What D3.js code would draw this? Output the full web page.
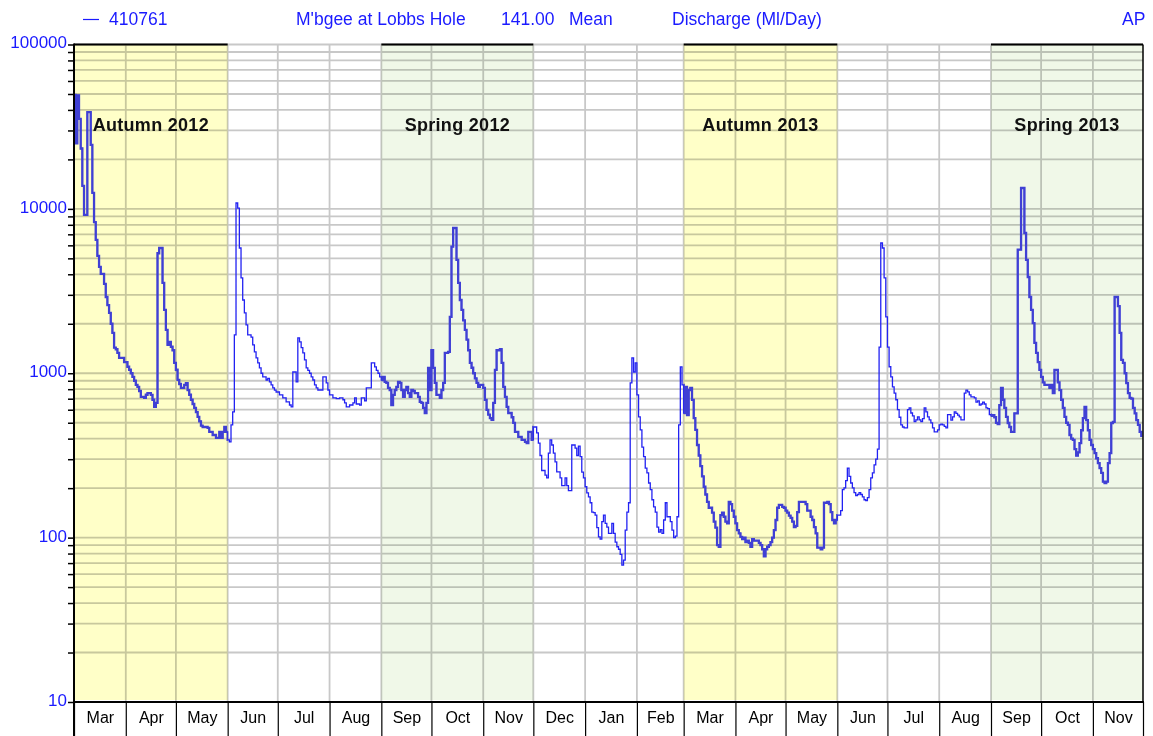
<!DOCTYPE html>
<html>
<head>
<meta charset="utf-8">
<script src="https://cdn.jsdelivr.net/npm/d3@7"></script>
<style>
  html, body { margin: 0; padding: 0; background: #fff; }
  svg { display: block; font-family: "Liberation Sans", Arial, sans-serif; }
</style>
</head>
<body>
<svg id="chart" width="1153" height="736"></svg>
<script>
// Station 410761 - daily mean discharge, Mar 2012 .. Nov 2013

const headerTexts = ["410761", "M'bgee at Lobbs Hole", "141.00", "Mean", "Discharge (Ml/Day)", "AP"];
const monthLabels = ["Mar", "Apr", "May", "Jun", "Jul", "Aug", "Sep", "Oct", "Nov", "Dec", "Jan", "Feb",
                     "Mar", "Apr", "May", "Jun", "Jul", "Aug", "Sep", "Oct", "Nov"];
const yLabels = [10, 100, 1000, 10000, 100000];

const seasons = [
  { label: "Autumn 2012", kind: "autumn", from: "2012-03-01", to: "2012-06-01" },
  { label: "Spring 2012", kind: "spring", from: "2012-09-01", to: "2012-12-01" },
  { label: "Autumn 2013", kind: "autumn", from: "2013-03-01", to: "2013-06-01" },
  { label: "Spring 2013", kind: "spring", from: "2013-09-01", to: "2013-12-01" }
];

// [days since 1 Mar 2012, Ml/day]
const discharge = [
  [0,49300],[1,25000],[2,49000],[3,35300],[4,23300],[5,13800],[6,9200],[7,9200],[8,38800],[9,38800],
  [10,24500],[11,12500],[12,8300],[13,6470],[14,5170],[15,4440],[16,4020],[17,4020],[18,3500],[19,2910],
  [20,2600],[21,2330],[22,2000],[23,1760],[24,1430],[25,1400],[26,1330],[27,1240],[29,1240],[30,1170],
  [32,1095],[33,1050],[34,1000],[35,950],[36,900],[37,850],[38,826],[39,780],[40,718],[42,708],
  [43,740],[44,758],[46,738],[47,690],[48,624],[49,660],[50,5370],[51,5780],[52,5780],[53,3550],
  [54,2430],[55,1835],[56,1487],[57,1550],[58,1450],[59,1380],[60,1156],[61,1050],[62,912],[63,860],
  [64,814],[66,850],[67,872],[68,790],[69,740],[70,690],[71,650],[72,615],[73,580],[74,542],
  [75,510],[76,480],[77,471],[80,465],[81,440],[83,421],[85,404],[87,440],[88,404],[89,440],
  [90,471],[91,440],[92,393],[93,382],[94,485],[95,582],[96,1710],[97,10860],[98,10100],[99,5780],
  [100,3800],[101,2790],[102,2330],[103,1970],[104,1710],[106,1660],[107,1490],[108,1350],[109,1240],[110,1156],
  [111,1077],[112,1000],[113,950],[115,910],[116,930],[117,885],[118,849],[119,814],[120,790],[121,769],
  [123,738],[125,708],[127,669],[129,641],[130,624],[131,1018],[133,885],[134,1640],[135,1550],[136,1430],
  [137,1330],[138,1205],[139,1077],[140,1040],[141,1000],[142,950],[143,910],[144,849],[145,814],[146,791],
  [149,950],[151,873],[152,791],[153,738],[155,708],[157,700],[159,708],[161,690],[162,660],[163,624],
  [165,641],[167,660],[168,708],[169,650],[171,640],[172,708],[174,680],[175,814],[178,1156],[180,1092],
  [181,1040],[182,1000],[183,950],[184,910],[185,950],[186,885],[187,873],[188,814],[189,791],[190,641],
  [191,738],[192,791],[193,826],[194,885],[195,873],[196,791],[197,718],[198,791],[199,826],[200,758],
  [201,718],[202,791],[203,780],[204,758],[206,718],[207,669],[208,660],[209,615],[210,573],[211,660],
  [212,1077],[213,791],[214,1380],[215,1077],[216,873],[217,738],[219,708],[220,791],[221,873],[222,1330],
  [224,1350],[225,2200],[226,5900],[227,7650],[228,7650],[229,4900],[230,3550],[231,2790],[232,2430],[233,2100],
  [234,1835],[235,1600],[236,1380],[237,1156],[238,1080],[239,1000],[240,930],[241,873],[242,826],[243,849],
  [245,814],[246,689],[247,598],[248,560],[249,534],[250,520],[251,660],[252,1047],[253,1380],[255,1400],
  [256,1156],[257,826],[258,718],[259,624],[260,573],[262,540],[263,499],[264,440],[266,410],[268,393],
  [270,382],[271,376],[272,440],[274,393],[275,471],[276,471],[277,434],[278,376],[279,316],[280,256],
  [282,240],[283,231],[284,327],[285,393],[286,366],[287,327],[288,289],[289,251],[291,231],[292,207],
  [294,231],[295,207],[296,193],[298,366],[300,350],[301,316],[302,360],[303,311],[304,250],[305,231],
  [306,204],[307,187],[308,177],[309,163],[310,143],[311,142],[312,137],[313,115],[314,101],[315,98],
  [316,125],[317,137],[318,122],[319,116],[320,106],[322,122],[323,106],[324,94],[325,88],[326,85],
  [327,79],[328,68],[329,73],[330,111],[331,143],[332,163],[333,873],[334,1240],[335,1018],[336,1156],
  [337,738],[338,542],[339,452],[340,355],[341,311],[342,265],[343,248],[344,215],[345,196],[346,170],
  [347,154],[348,143],[349,116],[350,108],[351,112],[352,106],[353,128],[354,163],[355,134],[357,125],
  [358,111],[359,100],[360,102],[361,134],[362,485],[363,1092],[364,850],[365,573],[366,826],[367,557],
  [368,791],[369,814],[370,689],[371,534],[372,452],[373,366],[374,316],[375,272],[376,236],[377,204],
  [378,183],[379,165],[380,152],[382,142],[383,125],[384,115],[385,90],[386,88],[387,137],[388,142],
  [389,134],[390,125],[391,122],[392,165],[393,160],[394,146],[395,134],[396,122],[397,111],[398,106],
  [399,101],[400,98],[401,100],[402,94],[403,96],[404,93],[405,88],[406,98],[407,96],[410,93],
  [411,90],[412,85],[413,77],[414,85],[415,88],[416,90],[417,94],[418,100],[419,111],[420,128],
  [421,152],[422,158],[424,154],[425,152],[426,146],[427,142],[428,136],[429,132],[430,125],[431,116],
  [432,118],[433,143],[434,165],[438,160],[439,146],[441,134],[442,128],[443,116],[444,106],[445,87],
  [447,85],[448,87],[449,163],[451,165],[452,160],[453,143],[454,128],[455,122],[456,128],[457,137],
  [459,146],[460,196],[461,201],[462,222],[463,265],[464,236],[465,215],[466,201],[467,188],[468,180],
  [469,183],[470,188],[471,183],[472,177],[473,170],[474,168],[475,175],[476,196],[477,231],[478,248],
  [479,277],[480,300],[481,345],[482,1440],[483,6200],[484,5780],[485,3800],[486,2200],[487,1440],[488,1095],
  [489,950],[490,826],[491,758],[492,690],[493,600],[494,540],[495,485],[496,471],[497,465],[499,600],
  [500,615],[501,573],[502,550],[503,508],[504,520],[505,542],[506,520],[507,508],[508,530],[509,615],
  [510,582],[511,542],[512,520],[513,499],[514,465],[515,440],[517,452],[518,485],[519,490],[520,485],
  [521,475],[522,465],[523,560],[525,518],[526,542],[527,582],[528,570],[529,557],[530,542],[531,520],
  [533,758],[534,790],[535,770],[536,738],[537,718],[539,708],[540,668],[541,680],[542,640],[543,650],
  [544,668],[545,650],[546,615],[547,610],[548,560],[549,550],[550,557],[551,540],[552,499],[553,490],
  [554,640],[555,814],[556,690],[557,615],[558,542],[559,498],[560,471],[561,440],[563,570],[565,5650],
  [567,13400],[569,7130],[570,4900],[571,3850],[572,2910],[573,2430],[574,2020],[575,1530],[576,1330],[577,1170],
  [578,1047],[579,950],[580,880],[581,850],[584,814],[585,850],[586,758],[587,1047],[589,880],[590,790],
  [591,690],[592,615],[593,542],[594,500],[595,485],[596,421],[597,400],[598,393],[599,345],[600,316],
  [601,330],[602,376],[603,450],[604,534],[605,624],[606,518],[607,450],[608,393],[609,366],[610,345],
  [611,327],[612,304],[613,284],[614,265],[615,248],[616,219],[617,215],[618,219],[619,284],[620,327],
  [621,498],[622,506],[623,2910],[625,2560],[626,1760],[627,1205],[628,1156],[629,1000],[630,872],[631,758],
  [632,708],[633,700],[634,615],[635,570],[636,518],[637,485],[638,440],[639,410]
];

const W = 1153, H = 736;
const plot = { left: 74, right: 1143, top: 44.5, bottom: 702 };
const BLUE = "#1a1aff";
const FILLS = { autumn: "#ffffc8", spring: "#f0f8e8" };

const start = new Date(2012, 2, 1);
const end = new Date(2013, 11, 1);
const parse = d3.timeParse("%Y-%m-%d");
const dayDate = d => d3.timeDay.offset(start, d);

const x = d3.scaleTime().domain([start, end]).range([plot.left, plot.right]);
const y = d3.scaleLog().domain([10, 100000]).range([plot.bottom, plot.top]);

const svg = d3.select("#chart");
svg.append("rect").attr("width", W).attr("height", H).attr("fill", "#fff");

// season bands
const bands = svg.append("g");
bands.selectAll("rect").data(seasons).join("rect")
  .attr("x", d => x(parse(d.from)))
  .attr("y", plot.top)
  .attr("width", d => x(parse(d.to)) - x(parse(d.from)))
  .attr("height", plot.bottom - plot.top - 2)
  .attr("fill", d => FILLS[d.kind]);

// grid
const grid = svg.append("g").style("mix-blend-mode", "multiply");
grid.selectAll("line.h").data(y.ticks().filter(v => v > 10)).join("line")
  .attr("class", "h")
  .attr("x1", plot.left).attr("x2", plot.right)
  .attr("y1", d => y(d)).attr("y2", d => y(d))
  .attr("stroke", "#c8c8c8").attr("stroke-width", 1.8);
const monthStarts = d3.timeMonth.range(start, end);
grid.selectAll("line.v").data(monthStarts.slice(1)).join("line")
  .attr("class", "v")
  .attr("x1", d => x(d)).attr("x2", d => x(d))
  .attr("y1", plot.top).attr("y2", plot.bottom)
  .attr("stroke", "#c8c8c8").attr("stroke-width", 1.8);

// black top edge over the season bands
svg.append("g").selectAll("line").data(seasons).join("line")
  .attr("x1", d => x(parse(d.from))).attr("x2", d => x(parse(d.to)))
  .attr("y1", plot.top).attr("y2", plot.top)
  .attr("stroke", "#000").attr("stroke-width", 2);

// discharge line
const line = d3.line()
  .x(d => x(dayDate(d[0])))
  .y(d => y(d[1]))
  .curve(d3.curveStepAfter);

svg.append("clipPath").attr("id", "seasonClip")
  .selectAll("rect").data(seasons).join("rect")
  .attr("x", d => x(parse(d.from)))
  .attr("y", 0)
  .attr("width", d => x(parse(d.to)) - x(parse(d.from)))
  .attr("height", H);

svg.append("path").datum(discharge)
  .attr("d", line).attr("fill", "none")
  .attr("stroke", "#2222f2").attr("stroke-width", 1.3);
svg.append("path").datum(discharge)
  .attr("d", line).attr("fill", "none")
  .attr("clip-path", "url(#seasonClip)")
  .attr("stroke", "#4040d4").attr("stroke-width", 2.3);

// season labels
svg.append("g").selectAll("text").data(seasons).join("text")
  .attr("x", d => (x(parse(d.from)) + x(parse(d.to))) / 2)
  .attr("y", 131)
  .attr("text-anchor", "middle")
  .attr("font-size", 18).attr("font-weight", "bold").attr("fill", "#111")
  .attr("letter-spacing", 0.3)
  .text(d => d.label);

// y axis
const yAxis = d3.axisLeft(y)
  .tickValues(y.ticks())
  .tickSize(6)
  .tickPadding(1)
  .tickFormat(d => yLabels.includes(d) ? String(d) : "");
const gy = svg.append("g").attr("transform", `translate(${plot.left},0)`).call(yAxis);
gy.select(".domain").remove();
gy.selectAll(".tick line").attr("stroke", "#000").attr("stroke-width", 1.5);
gy.selectAll(".tick text")
  .attr("y", -2)
  .attr("font-family", "Liberation Sans, Arial, sans-serif")
  .attr("font-size", 17).attr("fill", BLUE);

// x axis: month separators and labels
const gx = svg.append("g").attr("transform", `translate(0,${plot.bottom})`)
  .call(d3.axisBottom(x).tickValues(monthStarts.concat([end])).tickSize(H - plot.bottom).tickFormat(""));
gx.select(".domain").remove();
gx.selectAll(".tick line").attr("stroke", "#000").attr("stroke-width", 1.2);

const monthMids = monthStarts.map(m => new Date((+m + +d3.timeMonth.offset(m, 1)) / 2));
const gl = svg.append("g").attr("transform", `translate(0,${plot.bottom})`)
  .call(d3.axisBottom(x).tickValues(monthMids).tickSize(0).tickPadding(10)
    .tickFormat((d, i) => monthLabels[i]));
gl.select(".domain").remove();
gl.selectAll(".tick text")
  .attr("font-family", "Liberation Sans, Arial, sans-serif")
  .attr("font-size", 16).attr("fill", "#000");

// frame
svg.append("line")
  .attr("x1", plot.left).attr("x2", plot.right + 1)
  .attr("y1", plot.bottom).attr("y2", plot.bottom)
  .attr("stroke", "#000").attr("stroke-width", 2);
svg.append("line")
  .attr("x1", plot.left).attr("x2", plot.left)
  .attr("y1", plot.top - 1).attr("y2", H)
  .attr("stroke", "#000").attr("stroke-width", 2);
svg.append("line")
  .attr("x1", plot.right).attr("x2", plot.right)
  .attr("y1", plot.top).attr("y2", plot.bottom)
  .attr("stroke", "#000").attr("stroke-width", 1.5);

// header
const headerX = [109, 296, 501, 569, 672, 1122];
svg.append("line")
  .attr("x1", 83).attr("x2", 99).attr("y1", 19.5).attr("y2", 19.5)
  .attr("stroke", BLUE).attr("stroke-width", 1.2);
svg.append("g").selectAll("text").data(headerTexts).join("text")
  .attr("x", (d, i) => headerX[i])
  .attr("y", 25)
  .attr("font-size", 17.5).attr("fill", BLUE)
  .text(d => d);
</script>
</body>
</html>
